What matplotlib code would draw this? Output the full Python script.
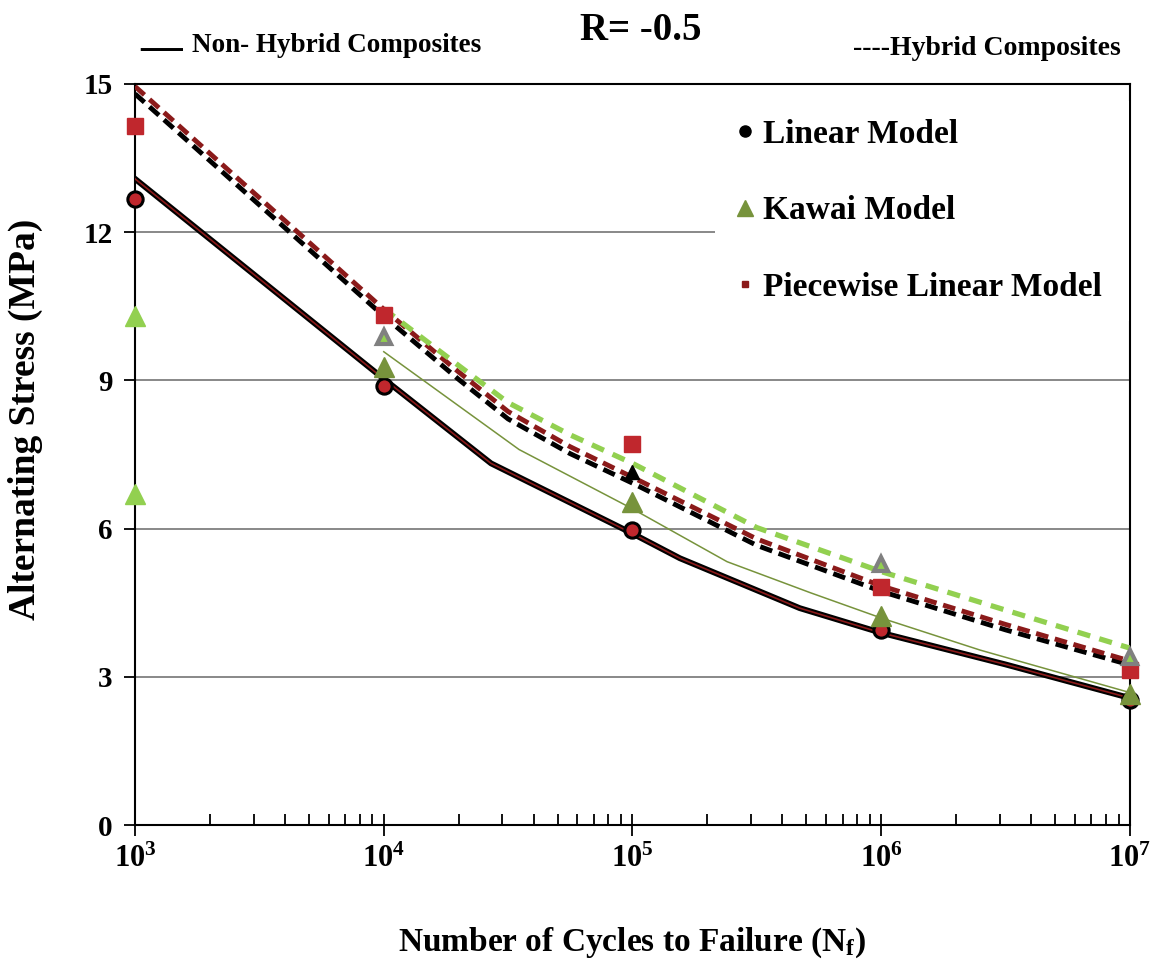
import matplotlib.pyplot as plt
from matplotlib.lines import Line2D

# ===============================
# FONTS
# ===============================
plt.rcParams['font.family'] = ['Liberation Serif', 'DejaVu Serif']
plt.rcParams['font.weight'] = 'bold'
plt.rcParams['axes.labelweight'] = 'bold'
plt.rcParams['mathtext.fontset'] = 'custom'
plt.rcParams['mathtext.rm'] = 'Liberation Serif:bold'
plt.rcParams['mathtext.it'] = 'Liberation Serif:bold'
plt.rcParams['mathtext.bf'] = 'Liberation Serif:bold'

# ===============================
# DATA
# ===============================
cycles = [1e3, 1e4, 1e5, 1e6, 1e7]

# non-hybrid fitted curve (black thick + red thin on top)
nh_line_N = [1e3, 1e4, 2.7e4, 1e5, 1.55e5, 4.7e5, 1e6, 3.16e6, 1e7]
nh_line_S = [13.08, 9.03, 7.32, 5.90, 5.40, 4.39, 3.89, 3.25, 2.57]

# non-hybrid Kawai curve (thin green)
nh_kawai_N = [1e4, 3.5e4, 1e5, 2.4e5, 5.2e5, 1e6, 2.5e6, 1e7]
nh_kawai_S = [9.58, 7.60, 6.40, 5.33, 4.70, 4.19, 3.54, 2.68]

# hybrid curves (dashed)
hy_N = [1e3, 1e4, 2e4, 3.16e4, 5.6e4, 1e5, 3.16e5, 1e6, 3.16e6, 1e7]
hy_linear_S = [14.80, 10.30, 9.02, 8.22, 7.52, 6.92, 5.66, 4.73, 3.95, 3.24]
hy_piecewise_S = [14.95, 10.44, 9.17, 8.37, 7.66, 7.04, 5.79, 4.84, 4.06, 3.32]
hy_kawai_N = [1e4, 2e4, 3.16e4, 5.6e4, 1e5, 3.16e5, 1e6, 3.16e6, 1e7]
hy_kawai_S = [10.45, 9.30, 8.55, 7.90, 7.32, 6.02, 5.13, 4.35, 3.58]

# markers
nh_linear_pts = [12.68, 8.89, 5.98, 3.95, 2.53]
nh_kawai_pts_N = [1e4, 1e5, 1e6, 1e7]
nh_kawai_pts = [9.28, 6.54, 4.23, 2.65]
hy_kawai_pts_N = [1e3, 1e3]
hy_kawai_pts = [10.30, 6.70]
hy_piecewise_pts = [14.15, 10.32, 7.72, 4.82, 3.14]
gray_tri_N = [1e4, 1e6, 1e7]
gray_tri = [9.87, 5.28, 3.41]
black_tri_N = [1e5]
black_tri = [7.15]

yticks = [0, 3, 6, 9, 12, 15]
xtick_labels = [r'$\mathbf{10^{3}}$', r'$\mathbf{10^{4}}$', r'$\mathbf{10^{5}}$',
                r'$\mathbf{10^{6}}$', r'$\mathbf{10^{7}}$']

# ===============================
# FIGURE
# ===============================
fig = plt.figure(figsize=(11.58, 9.63), dpi=100)
ax = fig.add_axes([0.1166, 0.1433, 0.8592, 0.7695])
ax.set_xscale('log')
ax.set_xlim(1e3, 1e7)
ax.set_ylim(0, 15)

for y in yticks[1:-1]:
    ax.axhline(y, color='#7f7f7f', lw=1.3, zorder=1)

green_dark = '#77933C'
green_light = '#92D050'
red_dark = '#8B1A1A'
red_sq = '#C0272D'
dash = (0, (2.6, 1.4))

# lines
ax.plot(nh_line_N, nh_line_S, color='black', lw=4.2, zorder=3, solid_joinstyle='round')
ax.plot(nh_line_N, nh_line_S, color=red_dark, lw=1.2, zorder=3.1)
ax.plot(nh_kawai_N, nh_kawai_S, color=green_dark, lw=1.1, zorder=3)
ax.plot(hy_N, hy_linear_S, color='black', lw=3.5, ls=dash, zorder=3)
ax.plot(hy_N, hy_piecewise_S, color=red_dark, lw=3.5, ls=dash, zorder=3.2)
ax.plot(hy_kawai_N, hy_kawai_S, color=green_light, lw=3.8, ls=(0, (2.5, 1.8)), zorder=3.3)

# markers
ax.plot(cycles, nh_linear_pts, 'o', ms=11, mfc=red_sq, mec='black', mew=2.2, ls='none', zorder=5, clip_on=False)
ax.plot(nh_kawai_pts_N, nh_kawai_pts, '^', ms=14, color=green_dark, ls='none', zorder=5, clip_on=False)
ax.plot(hy_kawai_pts_N, hy_kawai_pts, '^', ms=14, color=green_light, ls='none', zorder=5, clip_on=False)
ax.plot(cycles, hy_piecewise_pts, 's', ms=12, color=red_sq, ls='none', zorder=5, clip_on=False)
ax.plot(gray_tri_N, gray_tri, '^', ms=10, mfc=green_light, mec='#808080', mew=3, ls='none', zorder=5, clip_on=False)
ax.plot(black_tri_N, black_tri, '^', ms=10, color='black', ls='none', zorder=4)

# axes styling
for sp in ax.spines.values():
    sp.set_color('black')
    sp.set_linewidth(1.5)
ax.set_yticks(yticks)
ax.set_yticklabels([str(v) for v in yticks], fontsize=21)
ax.set_xticks(cycles)
ax.set_xticklabels(xtick_labels, fontsize=22)
ax.tick_params(axis='y', direction='out', length=8, width=1.3, pad=8)
ax.tick_params(axis='x', which='major', direction='inout', length=16, width=1.3, pad=6)
ax.tick_params(axis='x', which='minor', direction='in', length=8, width=1.3)

ax.set_xlabel(r'Number of Cycles to Failure (N$_{\mathbf{f}}$)', fontsize=24, labelpad=37)
ax.set_ylabel('Alternating Stress (MPa)', fontsize=27)
ax.yaxis.set_label_coords(-0.092, 0.547)

# legend
handles = [
    Line2D([], [], marker='o', color='black', ls='none', ms=8),
    Line2D([], [], marker='^', color=green_dark, ls='none', ms=11),
    Line2D([], [], marker='s', color=red_dark, ls='none', ms=5),
]
labels = ['Linear Model', 'Kawai Model', 'Piecewise Linear Model']
leg = ax.legend(handles, labels, loc='upper left', bbox_to_anchor=(0.566, 0.6, 0.45, 0.4),
                mode='expand', frameon=True, facecolor='white', edgecolor='none', framealpha=1,
                fancybox=False, fontsize=24, labelspacing=1.36, handletextpad=0.2,
                handlelength=0.7, borderpad=0.55)
leg.set_zorder(6)

# header texts
fig.text(0.553, 0.968, 'R= -0.5', fontsize=28, ha='center', va='center')
fig.text(0.121, 0.949, '\u2014', fontsize=30, ha='left', va='center')
fig.text(0.166, 0.953, 'Non- Hybrid Composites', fontsize=19.5, ha='left', va='center')
fig.text(0.968, 0.950, '----Hybrid Composites', fontsize=20, ha='right', va='center')

fig.savefig('out.png', dpi=100)
